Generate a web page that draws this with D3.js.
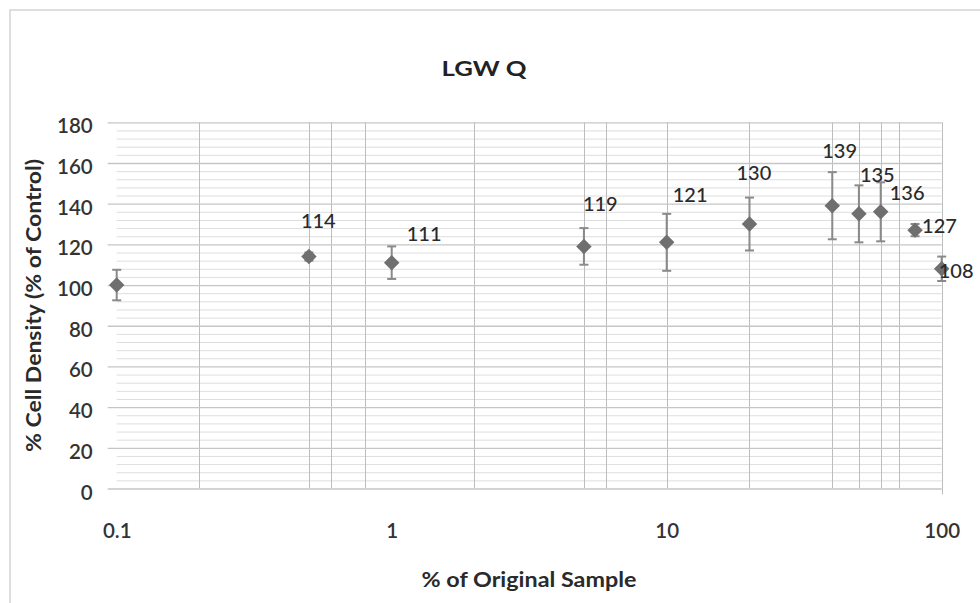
<!DOCTYPE html>
<html>
<head>
<meta charset="utf-8">
<script src="https://cdn.jsdelivr.net/npm/d3@7"></script>
<style>
  html, body { margin: 0; padding: 0; background: #fff; }
  svg { display: block; }
  text { font-family: Lato, "Open Sans", sans-serif; }
</style>
</head>
<body>
<svg id="chart" width="980" height="603"></svg>
<script>
// Concentration series (% of original sample) and measured cell density
const sampleFraction = [0.1, 0.5, 1, 5, 10, 20, 40, 50, 60, 80, 100];
const cellDensity    = [100, 114, 111, 119, 121, 130, 139, 135, 136, 127, 108];
const densityError   = [7.5, 2, 8, 9, 14, 13, 16.5, 14, 14.5, 3, 6];
// which points carry a value label
const showLabel      = [false, true, true, true, true, true, true, true, true, true, true];

// axis ticks and grid positions
const xTickValues    = [0.1, 1, 10, 100];
const xTickLabels    = ["0.1", "1", "10", "100"];
const xGridValues    = [0.2, 0.5, 0.6, 0.8, 2, 5, 6, 10, 20, 40, 50, 60, 70, 100];
const yTickValues    = [0, 20, 40, 60, 80, 100, 120, 140, 160, 180];
const yMinorValues   = d3.range(0, 181, 4);

const chartTitle = "LGW Q";
const xTitle = "% of Original Sample";
const yTitle = "% Cell Density (% of Control)";

// label placement relative to each point (text start, baseline)
const labelOffset = [[0, 0], [-8, -29], [15, -22], [-1, -35], [6, -40], [-13, -44],
                     [-10, -48], [1, -32], [9, -12], [7, 3], [-3, 9]];

const svg = d3.select("#chart");
const W = 980, H = 603;
const plot = { left: 116.7, right: 941.7, top: 122.3, bottom: 488.5 };

const x = d3.scaleLog().domain([0.1, 100]).range([plot.left, plot.right]);
const y = d3.scaleLinear().domain([0, 180]).range([plot.bottom, plot.top]);

svg.append("rect").attr("width", W).attr("height", H).attr("fill", "#fff");

// chart frame
svg.append("rect")
  .attr("x", 10).attr("y", 10).attr("width", 1200).attr("height", 1200)
  .attr("fill", "none").attr("stroke", "#d4d4d4").attr("stroke-width", 1.5);

// title
svg.append("text")
  .attr("x", 484).attr("y", 76)
  .attr("text-anchor", "middle")
  .attr("font-size", 20).attr("font-weight", "bold").attr("fill", "#222")
  .attr("textLength", 85).attr("lengthAdjust", "spacingAndGlyphs")
  .text(chartTitle);

const grid = svg.append("g");

// minor horizontal grid
grid.selectAll("line.ymin")
  .data(yMinorValues.filter(v => v % 20 !== 0))
  .join("line")
  .attr("x1", plot.left).attr("x2", plot.right)
  .attr("y1", d => y(d) + 0.5).attr("y2", d => y(d) + 0.5)
  .attr("stroke", "#dedede").attr("stroke-width", 1);

// vertical grid
grid.selectAll("line.xg")
  .data(xGridValues)
  .join("line")
  .attr("x1", d => Math.round(x(d)) + 0.5).attr("x2", d => Math.round(x(d)) + 0.5)
  .attr("y1", plot.top).attr("y2", d => d === 100 ? plot.bottom + 6 : plot.bottom)
  .attr("stroke", "#bdbdbd").attr("stroke-width", 1);

// major horizontal grid (extends past the left edge as tick marks)
grid.selectAll("line.ymaj")
  .data(yTickValues)
  .join("line")
  .attr("x1", plot.left - 9).attr("x2", plot.right)
  .attr("y1", d => y(d) + 0.5).attr("y2", d => y(d) + 0.5)
  .attr("stroke", "#c6c6c6").attr("stroke-width", 1.3);

// y axis labels
const yAxis = d3.axisLeft(y).tickValues(yTickValues).tickSize(0).tickPadding(0);
const gy = svg.append("g").attr("transform", `translate(${plot.left - 24},4)`).call(yAxis);
gy.select(".domain").remove();
gy.selectAll("text")
  .attr("font-family", "Lato, sans-serif")
  .attr("font-size", 20.5).attr("font-weight", 600).attr("fill", "#333");

// x axis labels
const xAxis = d3.axisBottom(x).tickValues(xTickValues)
  .tickFormat((d, i) => xTickLabels[i]).tickSize(0).tickPadding(0);
const gx = svg.append("g").attr("transform", `translate(0,${plot.bottom + 35})`).call(xAxis);
gx.select(".domain").remove();
gx.selectAll("text")
  .attr("font-family", "Lato, sans-serif")
  .attr("font-size", 20.5).attr("font-weight", 600).attr("fill", "#333");

// axis titles
svg.append("text")
  .attr("x", 529).attr("y", 587)
  .attr("text-anchor", "middle")
  .attr("font-size", 20).attr("font-weight", "bold").attr("fill", "#2a2a2a")
  .attr("textLength", 215).attr("lengthAdjust", "spacingAndGlyphs")
  .text(xTitle);

svg.append("text")
  .attr("transform", `translate(41,${(plot.top + plot.bottom) / 2}) rotate(-90)`)
  .attr("text-anchor", "middle")
  .attr("font-size", 20).attr("font-weight", "bold").attr("fill", "#2a2a2a")
  .attr("textLength", 293).attr("lengthAdjust", "spacingAndGlyphs")
  .text(yTitle);

const points = sampleFraction.map((f, i) => ({
  f, v: cellDensity[i], e: densityError[i], show: showLabel[i], off: labelOffset[i]
}));

// error bars
const eb = svg.append("g").attr("stroke", "#8a8a8a").attr("stroke-width", 2);
eb.selectAll("line.bar").data(points).join("line")
  .attr("x1", d => x(d.f)).attr("x2", d => x(d.f))
  .attr("y1", d => y(d.v + d.e)).attr("y2", d => y(d.v - d.e));
eb.selectAll("line.capt").data(points).join("line")
  .attr("x1", d => x(d.f) - 4.5).attr("x2", d => x(d.f) + 4.5)
  .attr("y1", d => y(d.v + d.e)).attr("y2", d => y(d.v + d.e));
eb.selectAll("line.capb").data(points).join("line")
  .attr("x1", d => x(d.f) - 4.5).attr("x2", d => x(d.f) + 4.5)
  .attr("y1", d => y(d.v - d.e)).attr("y2", d => y(d.v - d.e));

// diamond markers
const diamond = d3.symbol().type(d3.symbolSquare).size(120);
svg.append("g").selectAll("path").data(points).join("path")
  .attr("d", diamond)
  .attr("transform", d => `translate(${x(d.f)},${y(d.v)}) rotate(45)`)
  .attr("fill", "#6f6f6f");

// value labels
svg.append("g").selectAll("text").data(points.filter(d => d.show)).join("text")
  .attr("x", d => x(d.f) + d.off[0])
  .attr("y", d => y(d.v) + d.off[1])
  .attr("font-size", 20).attr("font-weight", 500).attr("fill", "#2a2a2a")
  .text(d => d.v);
</script>
</body>
</html>
